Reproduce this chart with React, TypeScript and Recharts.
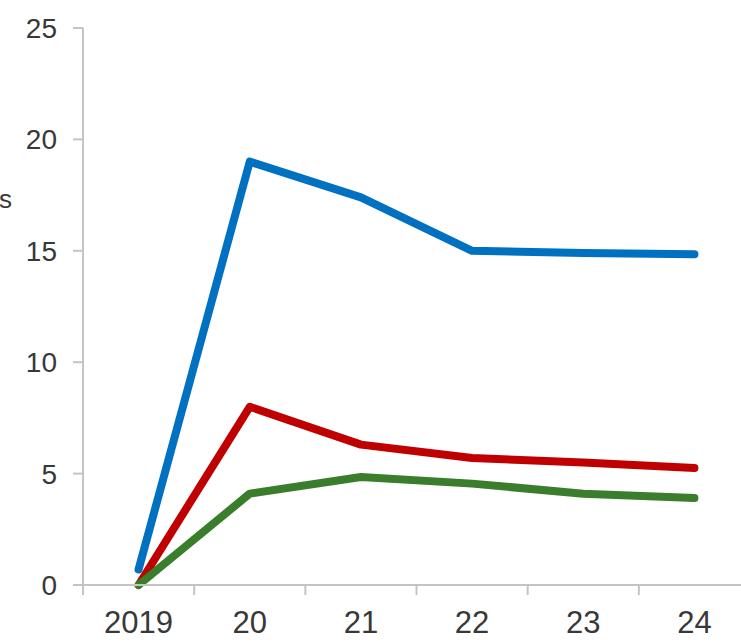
import { FC } from "react"
import { Line, LineChart, XAxis, YAxis } from "recharts"

// category labels along the bottom
const years = ["2019", "20", "21", "22", "23", "24"]

// series values per year
const blueSeries = [0.7, 19.0, 17.4, 15.0, 14.9, 14.85]
const redSeries = [0.0, 8.0, 6.3, 5.7, 5.5, 5.25]
const greenSeries = [0.0, 4.1, 4.85, 4.55, 4.1, 3.9]

const yTicks = [0, 5, 10, 15, 20, 25]

const rows = years.map((year, i) => ({
    x: i,
    year,
    blue: blueSeries[i],
    red: redSeries[i],
    green: greenSeries[i],
}))

// tick marks sit between categories, labels at the category centres
const labelTicks = years.map((_, i) => i)
const boundaryTicks = [...labelTicks.map((i) => i - 0.5), years.length - 0.5]

const FONT = "'Liberation Sans', Arial, sans-serif"
const AXIS = "#c4c4c4"
const TEXT = "#383838"

const App: FC = () => {
    return (
        <div
            style={{
                position: "absolute",
                left: 0,
                top: 0,
                width: 741,
                height: 642,
                overflow: "hidden",
                background: "#fff",
                fontFamily: FONT,
            }}
        >
            <LineChart
                width={760}
                height={642}
                data={rows}
                margin={{ top: 28, right: 10, left: 0, bottom: 0 }}
            >
                <XAxis
                    xAxisId="grid"
                    type="number"
                    dataKey="x"
                    domain={[-0.5, years.length - 0.5]}
                    ticks={boundaryTicks}
                    tickFormatter={() => ""}
                    tickSize={10}
                    height={10}
                    stroke={AXIS}
                    strokeWidth={2}
                    interval={0}
                />
                <XAxis
                    xAxisId="labels"
                    type="number"
                    dataKey="x"
                    domain={[-0.5, years.length - 0.5]}
                    ticks={labelTicks}
                    tickFormatter={(i: number) => years[i] ?? ""}
                    axisLine={false}
                    tickLine={false}
                    tickSize={0}
                    tickMargin={16}
                    height={47}
                    tick={{ fontSize: 31, fill: TEXT, fontFamily: FONT }}
                    interval={0}
                />
                <YAxis
                    domain={[0, 25]}
                    ticks={yTicks}
                    interval={0}
                    width={83}
                    tickSize={10}
                    tickMargin={16}
                    stroke={AXIS}
                    strokeWidth={2}
                    tick={{ fontSize: 28, fill: TEXT, fontFamily: FONT }}
                    label={{
                        content: () => (
                            <text
                                x={12}
                                y={208}
                                textAnchor="end"
                                fontSize={26}
                                fill={TEXT}
                                fontFamily={FONT}
                            >
                                s
                            </text>
                        ),
                    }}
                />
                <Line
                    xAxisId="grid"
                    type="linear"
                    dataKey="red"
                    stroke="#c00000"
                    strokeWidth={8}
                    strokeLinecap="round"
                    strokeLinejoin="round"
                    dot={false}
                    isAnimationActive={false}
                />
                <Line
                    xAxisId="grid"
                    type="linear"
                    dataKey="green"
                    stroke="#3a7d2c"
                    strokeWidth={8}
                    strokeLinecap="round"
                    strokeLinejoin="round"
                    dot={false}
                    isAnimationActive={false}
                />
                <Line
                    xAxisId="grid"
                    type="linear"
                    dataKey="blue"
                    stroke="#0070c0"
                    strokeWidth={8}
                    strokeLinecap="round"
                    strokeLinejoin="round"
                    dot={false}
                    isAnimationActive={false}
                />
            </LineChart>
        </div>
    )
}

export default App
